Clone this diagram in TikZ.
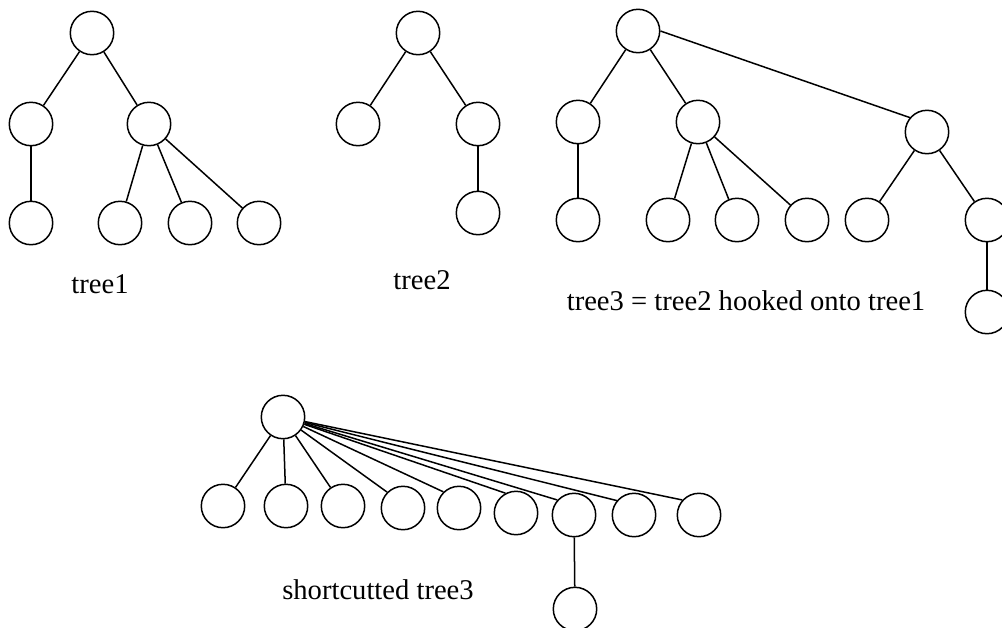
\documentclass[tikz,border=0pt]{standalone}
\usepackage{fontspec}
\setmainfont{Liberation Serif}
\begin{document}
\begin{tikzpicture}[x=0.5pt,y=-0.5pt,
  line width=0.75pt,tree node/.style={circle,draw,minimum size=21.7pt,inner sep=0pt},
  caption/.style={inner sep=0pt,font=\fontsize{14.3}{17}\selectfont}]

  \useasboundingbox (0,0) rectangle (1002,627);
  \clip (0,0) rectangle (1002,627);

  % tree1
  \node[tree node] (a1) at (92,33) {};
  \node[tree node] (a2) at (31,124) {};
  \node[tree node] (a3) at (149,124) {};
  \node[tree node] (a4) at (31,223) {};
  \node[tree node] (a5) at (120,223) {};
  \node[tree node] (a6) at (190,223) {};
  \node[tree node] (a7) at (259,223) {};
  \node[caption] (t1) at (100,284) {tree1};

  \path
   (a1) edge (a2)
   (a1) edge (a3)
   (a2) edge (a4)
   (a3) edge (a5)
   (a3) edge (a6)
   (a3) edge (a7);

  % tree2
  \node[tree node] (b1) at (418,33) {};
  \node[tree node] (b2) at (358,124) {};
  \node[tree node] (b3) at (478,124) {};
  \node[tree node] (b4) at (478,213) {};
  \node[caption] (t2) at (422,280) {tree2};

  \path
   (b1) edge (b2)
   (b1) edge (b3)
   (b3) edge (b4);

  % tree3
  \node[tree node] (c1) at (638,31) {};
  \node[tree node] (c2) at (578,122) {};
  \node[tree node] (c3) at (698,122) {};
  \node[tree node] (c4) at (927,132) {};
  \node[tree node] (c5) at (578,220) {};
  \node[tree node] (c6) at (668,220) {};
  \node[tree node] (c7) at (737,220) {};
  \node[tree node] (c8) at (807,220) {};
  \node[tree node] (c9) at (867,220) {};
  \node[tree node] (c10) at (987,220) {};
  \node[tree node] (c11) at (987,312) {};
  \node[caption] (t3) at (746,301) {tree3 = tree2 hooked onto tree1};

  \path
   (c1) edge (c2)
   (c1) edge (c3)
   (c1.east) edge (c4.140)
   (c2) edge (c5)
   (c3) edge (c6)
   (c3) edge (c7)
   (c3) edge (c8)
   (c4) edge (c9)
   (c4) edge (c10)
   (c10) edge (c11);

  % shortcutted tree3
  \node[tree node] (s1) at (283,417) {};
  \node[tree node] (s2) at (223,506) {};
  \node[tree node] (s3) at (286,506) {};
  \node[tree node] (s4) at (343,506) {};
  \node[tree node] (s5) at (403,508) {};
  \node[tree node] (s6) at (459,508) {};
  \node[tree node] (s7) at (516,513) {};
  \node[tree node] (s8) at (574,515) {};
  \node[tree node] (s9) at (634,515) {};
  \node[tree node] (s10) at (699,515) {};
  \node[tree node] (s11) at (575,609) {};
  \node[caption] (t4) at (378,590) {shortcutted tree3};

  \path
   (s1) edge (s2)
   (s1) edge (s3)
   (s1) edge (s4)
   (s1) edge (s5.135)
   (s1) edge (s6.134)
   (s1) edge (s7.118)
   (s1) edge (s8.138)
   (s1) edge (s9.140)
   (s1) edge (s10.138)
   (s8) edge (s11);
\end{tikzpicture}
\end{document}
